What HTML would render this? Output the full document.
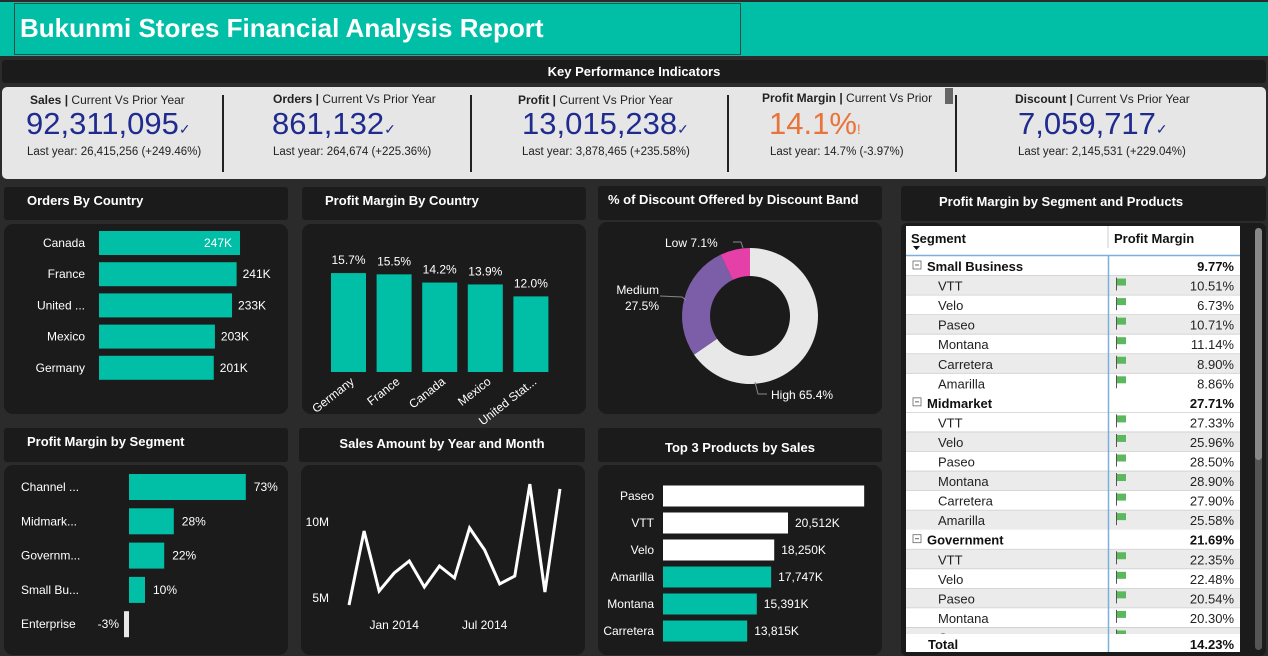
<!DOCTYPE html>
<html><head><meta charset="utf-8">
<style>
*{margin:0;padding:0;box-sizing:border-box}
body{width:1268px;height:656px;background:#2b2b2b;font-family:"Liberation Sans",sans-serif;position:relative;overflow:hidden}
.abs{position:absolute}
.hdr{position:absolute;background:#1b1b1b;color:#fff;font-weight:bold;font-size:13px;border-radius:3px}
.body{position:absolute;background:#1b1b1b;border-radius:9px}
.kt{position:absolute;font-size:12px;color:#222}
.kv{position:absolute;font-size:31px;color:#1f2b8e}
.kl{position:absolute;font-size:11.5px;color:#222}
.sep{position:absolute;width:2px;background:#222;top:95px;height:77px}
svg text{font-family:"Liberation Sans",sans-serif}
</style></head><body>
<div class="abs" style="left:0;top:2px;width:1268px;height:54px;background:#00bfa6"></div>
<div class="abs" style="left:14px;top:3px;width:727px;height:52px;border:1px solid #2a4a44"></div>
<div class="abs" style="left:20px;top:13px;color:#fff;font-weight:bold;font-size:26px">Bukunmi Stores Financial Analysis Report</div>
<div class="hdr" style="left:2px;top:60px;width:1264px;height:23px;text-align:center;line-height:23px">Key Performance Indicators</div>
<div class="abs" style="left:2px;top:87px;width:1264px;height:92px;background:#e6e6e6;border-radius:5px"></div>
<div class="sep" style="left:222px"></div>
<div class="sep" style="left:470px"></div>
<div class="sep" style="left:727px"></div>
<div class="sep" style="left:955px"></div>
<div class="abs" style="left:945px;top:88px;width:8px;height:16px;background:#666"></div>

<div>
<div class="kt" style="left:30px;top:93px"><b>Sales |</b> Current Vs Prior Year</div>
<div class="kv" style="left:26px;top:106px">92,311,095<span style="font-size:14px">✓</span></div>
<div class="kl" style="left:27px;top:146px">Last year: 26,415,256 (+249.46%)</div></div>
<div>
<div class="kt" style="left:273px;top:92px"><b>Orders |</b> Current Vs Prior Year</div>
<div class="kv" style="left:272px;top:106px">861,132<span style="font-size:14px">✓</span></div>
<div class="kl" style="left:273px;top:146px">Last year: 264,674 (+225.36%)</div></div>
<div>
<div class="kt" style="left:518px;top:93px"><b>Profit |</b> Current Vs Prior Year</div>
<div class="kv" style="left:522px;top:106px">13,015,238<span style="font-size:14px">✓</span></div>
<div class="kl" style="left:522px;top:146px">Last year: 3,878,465 (+235.58%)</div></div>
<div>
<div class="kt" style="left:762px;top:91px"><b>Profit Margin |</b> Current Vs Prior</div>
<div class="kv" style="left:769px;top:106px;color:#e8743b">14.1%<span style="font-size:14px">!</span></div>
<div class="kl" style="left:770px;top:146px">Last year: 14.7% (-3.97%)</div></div>
<div>
<div class="kt" style="left:1015px;top:92px"><b>Discount |</b> Current Vs Prior Year</div>
<div class="kv" style="left:1018px;top:106px">7,059,717<span style="font-size:14px">✓</span></div>
<div class="kl" style="left:1018px;top:146px">Last year: 2,145,531 (+229.04%)</div></div>

<div class="hdr" style="left:4px;top:187px;width:284px;height:33px;line-height:28px;padding-left:23px">Orders By Country</div>
<div class="body" style="left:4px;top:224px;width:284px;height:190px"></div>
<div class="hdr" style="left:302px;top:187px;width:284px;height:33px;line-height:28px;padding-left:23px">Profit Margin By Country</div>
<div class="body" style="left:302px;top:224px;width:284px;height:190px"></div>
<div class="hdr" style="left:598px;top:186px;width:284px;height:34px;line-height:28px;padding-left:10px">% of Discount Offered by Discount Band</div>
<div class="body" style="left:598px;top:222px;width:284px;height:192px"></div>
<div class="hdr" style="left:901px;top:186px;width:365px;height:35px;line-height:32px;padding-left:38px">Profit Margin by Segment and Products</div>
<div class="body" style="left:901px;top:223px;width:365px;height:433px;border-radius:6px"></div>

<div class="hdr" style="left:4px;top:428px;width:284px;height:34px;line-height:28px;padding-left:23px">Profit Margin by Segment</div>
<div class="body" style="left:4px;top:465px;width:284px;height:190px"></div>
<div class="hdr" style="left:299px;top:428px;width:286px;height:34px;line-height:32px;text-align:center">Sales Amount by Year and Month</div>
<div class="body" style="left:301px;top:465px;width:284px;height:190px"></div>
<div class="hdr" style="left:598px;top:428px;width:284px;height:34px;line-height:40px;text-align:center">Top 3 Products by Sales</div>
<div class="body" style="left:598px;top:465px;width:284px;height:190px"></div>

<div class="abs" style="left:906px;top:226px;width:334px;height:426px;background:#fff"></div>
<div class="abs" style="left:1255px;top:228px;width:7px;height:422px;background:#555;border-radius:4px"><div style="width:7px;height:232px;background:#888;border-radius:4px"></div></div>

<svg id="s" class="abs" style="left:0;top:0" width="1268" height="656"></svg>
<script>
// Orders by country
const ordCats=["Canada","France","United ...","Mexico","Germany"];
const ordVals=[247,241,233,203,201];
// Profit margin by country
const pmCats=["Germany","France","Canada","Mexico","United Stat..."];
const pmVals=[15.7,15.5,14.2,13.9,12.0];
// Discount bands
const discCats=["High","Medium","Low"];
const discVals=[65.4,27.5,7.1];
// Profit margin by segment
const segCats=["Channel ...","Midmark...","Governm...","Small Bu...","Enterprise"];
const segVals=[73,28,22,10,-3];
// Sales by month
const salesMonths=["Oct 2013","Nov 2013","Dec 2013","Jan 2014","Feb 2014","Mar 2014","Apr 2014","May 2014","Jun 2014","Jul 2014","Aug 2014","Sep 2014","Oct 2014","Nov 2014","Dec 2014"];
const salesVals=[4.47,9.34,5.39,6.58,7.37,5.66,7.04,6.25,9.54,8.09,5.86,6.38,12.43,5.33,12.11];
const salesTicks=[5,10];
// Top products
const prodCats=["Paseo","VTT","Velo","Amarilla","Montana","Carretera"];
const prodVals=[33011,20512,18250,17747,15391,13815];
const prodTop=[true,true,true,false,false,false];
// Table
const tblSegments=["Small Business","Midmarket","Government"];
const tblSegVals=["9.77%","27.71%","21.69%"];
const tblProducts=["VTT","Velo","Paseo","Montana","Carretera","Amarilla"];
const tblVals=[["10.51%","6.73%","10.71%","11.14%","8.90%","8.86%"],["27.33%","25.96%","28.50%","28.90%","27.90%","25.58%"],["22.35%","22.48%","20.54%","20.30%","",""]];

const S=document.getElementById('s');const NS="http://www.w3.org/2000/svg";
function mk(t,a,txt){const e=document.createElementNS(NS,t);for(const k in a)e.setAttribute(k,a[k]);if(txt!==undefined)e.textContent=txt;S.appendChild(e);return e;}
const TEAL="#00bfa6";

// Orders
const ox=v=>99+v*0.571, oy=i=>243+i*31.2;
ordCats.forEach((c,i)=>{
 let r=mk('rect',{x:99,y:oy(i)-12,width:ox(ordVals[i])-99,height:24,fill:TEAL});
 
 let t=mk('text',{x:85,y:oy(i)+4,fill:'#fff','font-size':12,'text-anchor':'end'},c);
 
 let inside=i==0;
 let v=mk('text',{x:inside?ox(ordVals[i])-8:ox(ordVals[i])+6,y:oy(i)+4,fill:'#fff','font-size':12,'text-anchor':inside?'end':'start'},ordVals[i]+'K');
 
});
// PM by country
const px=i=>331+i*45.6, py=v=>372-v*6.3;
pmCats.forEach((c,i)=>{
 let r=mk('rect',{x:px(i),y:py(pmVals[i]),width:35,height:372-py(pmVals[i]),fill:TEAL});
 
 let v=mk('text',{x:px(i)+17.5,y:py(pmVals[i])-9,fill:'#fff','font-size':12,'text-anchor':'middle'},pmVals[i].toFixed(1)+'%');
 
 let t=mk('text',{x:px(i)+24,y:383,fill:'#fff','font-size':12,'text-anchor':'end',transform:`rotate(-38 ${px(i)+24} 383)`},c);
 
});
// Donut
const cx=750,cy=316,R=68,r0=40;const dcol=["#e8e8e8","#7b5ea7","#e540a8"];
let tot=discVals.reduce((a,b)=>a+b,0),acc=0;
function pt(a,rr){return [cx+rr*Math.sin(a),cy-rr*Math.cos(a)];}
discVals.forEach((v,i)=>{
 const a0=acc/tot*2*Math.PI;acc+=v;const a1=acc/tot*2*Math.PI;const lg=(a1-a0)>Math.PI?1:0;
 const [x0,y0]=pt(a0,R),[x1,y1]=pt(a1,R),[x2,y2]=pt(a1,r0),[x3,y3]=pt(a0,r0);
 let p=mk('path',{d:`M${x0} ${y0}A${R} ${R} 0 ${lg} 1 ${x1} ${y1}L${x2} ${y2}A${r0} ${r0} 0 ${lg} 0 ${x3} ${y3}Z`,fill:dcol[i]});
 
});
mk('polyline',{points:'733,242 741,242 743,248',fill:'none',stroke:'#888'});
mk('polyline',{points:'660,296 682,297 686,300',fill:'none',stroke:'#888'});
mk('polyline',{points:'755,382 758,394 767,394',fill:'none',stroke:'#888'});
let dl=[[665,247,'start',discCats[2]+' '+discVals[2]+'%'],[658,294,'end',discCats[1]],[658,310,'end',discVals[1]+'%'],[771,399,'start',discCats[0]+' '+discVals[0]+'%']];
dl.forEach(d=>{let t=mk('text',{x:d[2]=='end'?d[0]+1:d[0],y:d[1],fill:'#fff','font-size':12,'text-anchor':d[2]},d[3]);});
// Segment
const sx=v=>129+v*1.6, sy=i=>487+i*34.3;
segCats.forEach((c,i)=>{
 const v=segVals[i];const x0=Math.min(sx(0),sx(v)),w=Math.max(Math.abs(sx(v)-sx(0)),4);
 let r=mk('rect',{x:v<0?sx(0)-5:x0,y:sy(i)-13,width:v<0?5:w,height:26,fill:v<0?'#e8e8e8':TEAL});
 
 let t=mk('text',{x:21,y:sy(i)+4,fill:'#fff','font-size':12},c);
 let vt=mk('text',{x:v<0?sx(0)-10:sx(v)+8,y:sy(i)+4,fill:'#fff','font-size':12,'text-anchor':v<0?'end':'start'},v+'%');
 
});
// Sales line
const lx=i=>349+i*15.07, ly=v=>597-(v-5)*15.2;
salesTicks.forEach(t=>{let e=mk('text',{x:329,y:ly(t)+5,fill:'#fff','font-size':12,'text-anchor':'end'},t+'M');});
[[3,"Jan 2014"],[9,"Jul 2014"]].forEach(d=>{let e=mk('text',{x:lx(d[0]),y:629,fill:'#fff','font-size':12,'text-anchor':'middle'},d[1]);});
let ln=mk('polyline',{points:salesVals.map((v,i)=>lx(i)+','+ly(v)).join(' '),fill:'none',stroke:'#fff','stroke-width':3,'stroke-linejoin':'miter'});

// Top products
const tx=v=>663+v*0.006094, ty=i=>496+i*27;
prodCats.forEach((c,i)=>{
 let r=mk('rect',{x:663,y:ty(i)-10.5,width:tx(prodVals[i])-663,height:21,fill:prodTop[i]?'#fff':TEAL});
 
 let t=mk('text',{x:654,y:ty(i)+4,fill:'#fff','font-size':12,'text-anchor':'end'},c);
 if(i>0){let v=mk('text',{x:tx(prodVals[i])+7,y:ty(i)+4,fill:'#fff','font-size':12},prodVals[i].toLocaleString('en-US')+'K');}
});
// Table
mk('text',{x:911,y:243,'font-size':13,'font-weight':'bold',fill:'#111'},'Segment');
mk('path',{d:'M913 246h7l-3.5 4z',fill:'#111'});
mk('text',{x:1114,y:243,'font-size':13,'font-weight':'bold',fill:'#111'},'Profit Margin');
mk('line',{x1:906,y1:255.5,x2:1240,y2:255.5,stroke:'#7ab0dc','stroke-width':1.5});
mk('line',{x1:1108,y1:226,x2:1108,y2:248,stroke:'#ccc'});
let row=0;const rowY=k=>256+k*19.55;
tblSegments.forEach((sg,si)=>{
 let y=rowY(row);
 let t=mk('text',{x:927,y:y+15,'font-size':13,'font-weight':'bold',fill:'#111'},sg);
 mk('rect',{x:913,y:y+5,width:8,height:8,fill:'none',stroke:'#666','stroke-width':0.8});mk('line',{x1:915,y1:y+9,x2:919,y2:y+9,stroke:'#666'});
 mk('text',{x:1234,y:y+15,'font-size':13,'font-weight':'bold',fill:'#111','text-anchor':'end'},tblSegVals[si]);
 row++;
 tblProducts.forEach((p,pi)=>{
  let y=rowY(row);if(y>632)return;
  if(row%2==1){mk('rect',{x:906,y:y,width:334,height:19.5,fill:'#ebebeb'});}
  mk('line',{x1:906,y1:y,x2:1240,y2:y,stroke:'#cfcfcf','stroke-width':0.8});
  let c=mk('text',{x:938,y:y+15,'font-size':13,fill:'#222'},p);
  mk('line',{x1:1116.5,y1:y+2,x2:1116.5,y2:y+15,stroke:'#555'});mk('rect',{x:1117,y:y+3,width:9,height:7,fill:'#5cb85c'});
  if(tblVals[si][pi])mk('text',{x:1234,y:y+15,'font-size':13,fill:'#222','text-anchor':'end'},tblVals[si][pi]);
  row++;
 });
});
mk('line',{x1:1108.5,y1:256,x2:1108.5,y2:652,stroke:'#7ab0dc','stroke-width':1.5});
mk('rect',{x:906,y:634,width:334,height:18,fill:'#fff'});
mk('line',{x1:1108.5,y1:634,x2:1108.5,y2:652,stroke:'#7ab0dc','stroke-width':1.5});
let tt=mk('text',{x:928,y:649,'font-size':13,'font-weight':'bold',fill:'#111'},'Total');
mk('text',{x:1234,y:649,'font-size':13,'font-weight':'bold',fill:'#111','text-anchor':'end'},'14.23%');
</script>
</body></html>
